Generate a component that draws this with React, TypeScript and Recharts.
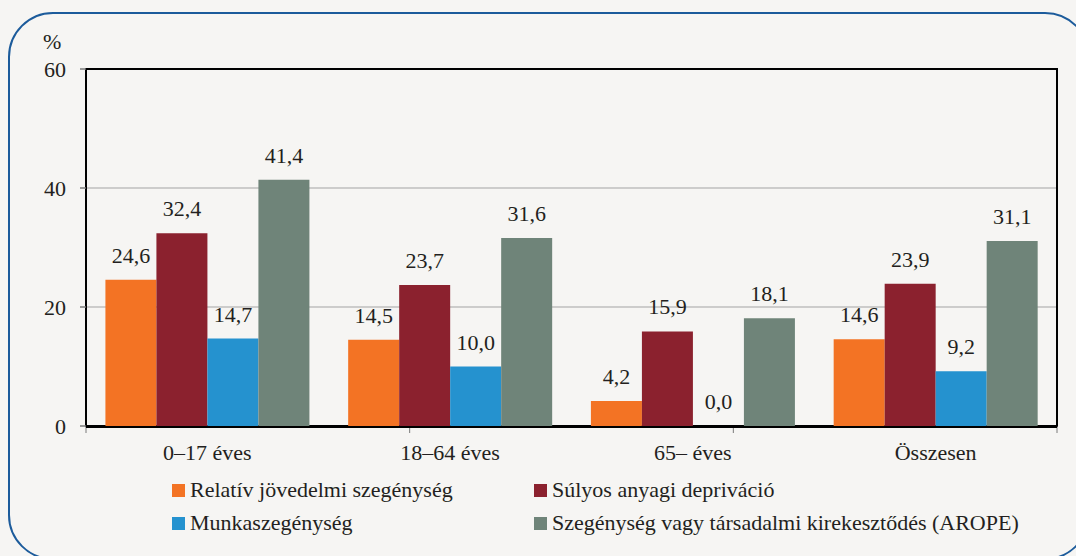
import { BarChart, Bar, XAxis, YAxis, CartesianGrid, LabelList, ReferenceArea } from 'recharts'

const categories = ['0–17 éves', '18–64 éves', '65– éves', 'Összesen']
const relativ = [24.6, 14.5, 4.2, 14.6]
const sulyos = [32.4, 23.7, 15.9, 23.9]
const munka = [14.7, 10.0, 0.0, 9.2]
const arope = [41.4, 31.6, 18.1, 31.1]
const yTicks = [0, 20, 40, 60]
const boundaryTicks = [0, 1, 2, 3, 4]

const series = [
  { key: 'relativ', name: 'Relatív jövedelmi szegénység', color: '#f37324' },
  { key: 'sulyos', name: 'Súlyos anyagi depriváció', color: '#8b212e' },
  { key: 'munka', name: 'Munkaszegénység', color: '#2592cf' },
  { key: 'arope', name: 'Szegénység vagy társadalmi kirekesztődés (AROPE)', color: '#6f8479' },
]

const data = categories.map((c, i) => ({
  cat: c,
  relativ: relativ[i],
  sulyos: sulyos[i],
  munka: munka[i],
  arope: arope[i],
}))

const FONT = 'Liberation Serif, Times New Roman, serif'
const TEXT = '#231f20'
const fmt = (v: any) => Number(v).toFixed(1).replace('.', ',')

// legend placement: two columns, two rows
const legendPos = [
  { left: 172, top: 479 },
  { left: 534, top: 479 },
  { left: 172, top: 512 },
  { left: 534, top: 512 },
]

export default function App() {
  return (
    <div style={{ position: 'absolute', left: 0, top: 0, width: 1076, height: 556, background: '#f6f5f3', overflow: 'hidden', fontFamily: FONT }}>
      <div style={{ position: 'absolute', left: 8, top: 12, width: 1082, height: 548, border: '2px solid #1c5b9b', borderRadius: 45, boxSizing: 'border-box' }} />
      <div style={{ position: 'absolute', left: 43, top: 31, fontSize: 22, lineHeight: '22px', color: TEXT, fontFamily: FONT }}>%</div>
      <div style={{ position: 'absolute', left: 0, top: 0 }}>
        <BarChart
          width={1076}
          height={556}
          data={data}
          margin={{ top: 69, right: 19, left: 0, bottom: 89 }}
          barCategoryGap="8%"
          barGap={0}
        >
          <CartesianGrid vertical={false} stroke="#a3a3a3" strokeWidth={1} yAxisId="left" xAxisId="cat" />
          {/* numeric helper axis: tick marks at category boundaries */}
          <XAxis
            xAxisId={0}
            type="number"
            domain={[0, 4]}
            ticks={boundaryTicks}
            allowDataOverflow
            height={1}
            tick={() => <g />}
            axisLine={false}
            tickSize={7}
            tickLine={{ stroke: '#7a7a7a', strokeWidth: 1 }}
          />
          <XAxis
            xAxisId="cat"
            dataKey="cat"
            height={40}
            tickLine={false}
            tickSize={6}
            tickMargin={11}
            axisLine={{ stroke: '#000', strokeWidth: 2 }}
            tick={{ fill: TEXT, fontSize: 22, fontFamily: FONT }}
          />
          <YAxis
            yAxisId="left"
            width={86}
            domain={[0, 60]}
            ticks={yTicks}
            tickSize={6}
            tickMargin={14}
            tickLine={{ stroke: '#7a7a7a', strokeWidth: 1.5 }}
            axisLine={{ stroke: '#000', strokeWidth: 2 }}
            tick={{ fill: TEXT, fontSize: 22, fontFamily: FONT }}
          />
          <ReferenceArea xAxisId="cat" yAxisId="left" y1={0} y2={60} fill="none" stroke="#000" strokeWidth={2} ifOverflow="visible" />
          {series.map(s => (
            <Bar key={s.key} dataKey={s.key} name={s.name} fill={s.color} xAxisId="cat" yAxisId="left" minPointSize={0.01} isAnimationActive={false}>
              <LabelList dataKey={s.key} position="top" offset={17} formatter={fmt} fill={TEXT} fontSize={22} fontFamily={FONT} />
            </Bar>
          ))}
        </BarChart>
      </div>
      {series.map((s, i) => (
        <div
          key={s.key}
          style={{ position: 'absolute', left: legendPos[i].left, top: legendPos[i].top, display: 'flex', alignItems: 'center', fontSize: 22, lineHeight: '22px', color: TEXT, whiteSpace: 'nowrap', fontFamily: FONT }}
        >
          <span style={{ display: 'inline-block', width: 13, height: 13, background: s.color, marginRight: 5, marginTop: 1 }} />
          {s.name}
        </div>
      ))}
    </div>
  )
}
